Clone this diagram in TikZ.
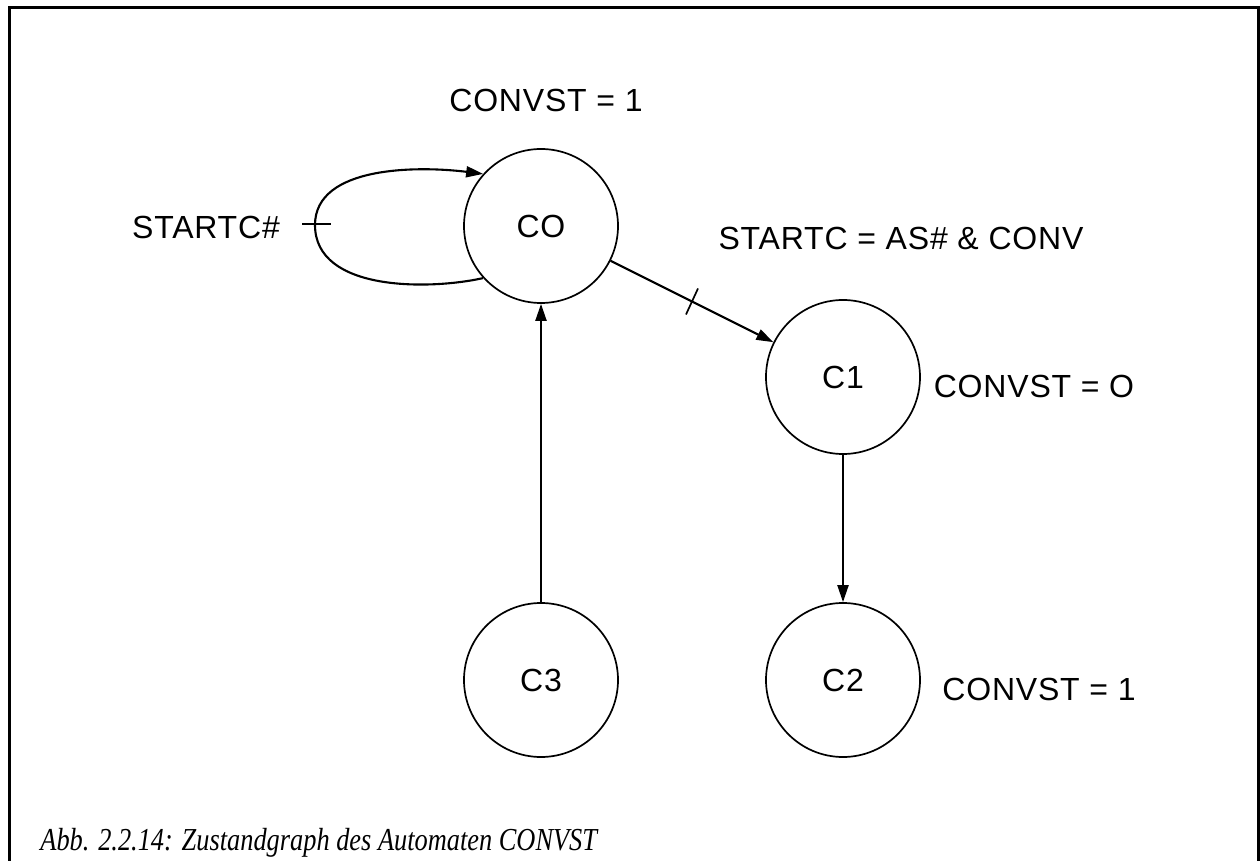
\documentclass[tikz,border=0pt]{standalone}
\usepackage{fontspec}
\setmainfont{Liberation Serif}
\newfontfamily\labelfont[LetterSpace=2.5]{Liberation Sans}
\usetikzlibrary{arrows.meta,calc}
\begin{document}
\begin{tikzpicture}[x=0.5pt,y=-0.5pt,
  state/.style={circle,draw,line width=0.85pt,minimum size=77pt,inner sep=0pt,font=\labelfont\fontsize{16}{18}\selectfont},
  lbl/.style={anchor=base,inner sep=0pt,font=\labelfont\fontsize{16}{18}\selectfont},
  edge/.style={line width=1.05pt,-{Triangle[length=8.5pt,width=5.5pt]}},
  tick/.style={line width=0.85pt}]
\useasboundingbox (0,0) rectangle (1260,861);
% frame, open at the bottom
\draw[line width=1.5pt] (9,870) -- (9,8) -- (1258,8) -- (1258,870);

% states
\node[state] (c0) at (541,226) {CO};
\node[state] (c1) at (843,377) {C1};
\node[state] (c2) at (843,680) {C2};
\node[state] (c3) at (541,680) {C3};

% self loop on CO
\coordinate (lp) at (315,225);
\draw[edge] (c0.222) .. controls (430,290) and (315,292) .. (lp)
  .. controls (315,165) and (420,166) .. (c0.138);
\draw[tick] (302,224) -- (331,224);

% transitions
\draw[edge] (c0) -- (c1) coordinate[pos=0.5] (m);
\draw[tick] ($(m)+(-6,13)$) -- ($(m)+(6,-13)$);
\draw[edge] (c1) -- (c2);
\draw[edge] (c3) -- (c0);

% labels
\node[lbl] (t0) at (546,112) {CONVST = 1};
\node[lbl] (t1) at (206,239) {STARTC\#};
\node[lbl] (t2) at (901,250) {STARTC = AS\# \& CONV};
\node[lbl] (t3) at (1034,398) {CONVST = O};
\node[lbl] (t4) at (1039,700) {CONVST = 1};

% caption
\node[anchor=base west,inner sep=0pt,font=\itshape\fontsize{16}{18}\selectfont] (cap) at (40,850)
  {\scalebox{0.824}[1]{Abb. 2.2.14: Zustandgraph des Automaten CONVST}};
\end{tikzpicture}
\end{document}
